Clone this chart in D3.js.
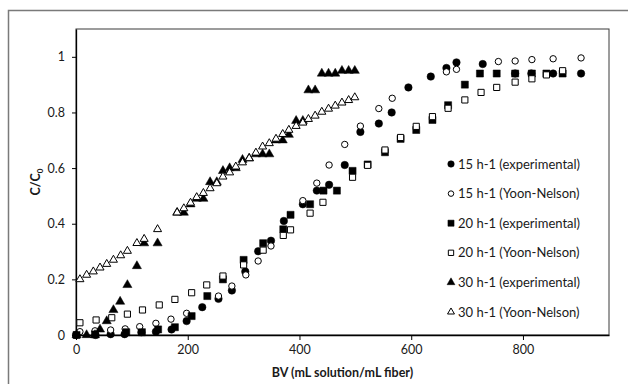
<!DOCTYPE html>
<html>
<head>
<meta charset="utf-8">
<script src="https://cdn.jsdelivr.net/npm/d3@7"></script>
<style>
  body { margin: 0; background: #fff; }
  svg { display: block; font-family: Lato, "Open Sans", sans-serif; }
</style>
</head>
<body>
<div id="chart"></div>
<script>
// 15 h-1
const bv15Exp = [0, 35, 62, 87, 117, 143, 171, 198, 226, 255, 279, 303, 326, 349, 372, 406, 431, 453, 481, 509, 542, 565, 595, 635, 663, 681, 728, 786, 815, 854, 904];
const c15Exp = [0, 0, 0.003, 0.003, 0.01, 0.012, 0.02, 0.05, 0.1, 0.13, 0.16, 0.228, 0.301, 0.339, 0.41, 0.47, 0.519, 0.54, 0.611, 0.73, 0.76, 0.8, 0.89, 0.929, 0.96, 0.98, 0.974, 0.94, 0.94, 0.94, 0.94];
const bv15YN = [7, 34, 62, 88, 114, 143, 170, 198, 255, 279, 304, 326, 349, 406, 431, 453, 481, 509, 542, 566, 663, 681, 756, 786, 816, 854, 904];
const c15YN = [0.012, 0.015, 0.018, 0.022, 0.03, 0.042, 0.057, 0.078, 0.14, 0.176, 0.216, 0.266, 0.32, 0.483, 0.546, 0.611, 0.685, 0.751, 0.814, 0.851, 0.946, 0.955, 0.983, 0.985, 0.99, 0.993, 0.996];

// 20 h-1
const bv20Exp = [1, 34, 90, 118, 147, 177, 207, 235, 263, 300, 335, 371, 384, 419, 443, 467, 495, 522, 553, 581, 609, 638, 666, 696, 723, 753, 786, 816, 842, 871];
const c20Exp = [0, 0.002, 0.01, 0.01, 0.02, 0.028, 0.068, 0.14, 0.2, 0.27, 0.33, 0.38, 0.432, 0.47, 0.519, 0.519, 0.59, 0.613, 0.657, 0.705, 0.737, 0.773, 0.826, 0.9, 0.94, 0.94, 0.94, 0.94, 0.94, 0.94];
const bv20YN = [7, 36, 64, 92, 119, 149, 177, 207, 234, 263, 300, 335, 371, 384, 419, 442, 495, 522, 553, 581, 609, 638, 666, 696, 725, 753, 786, 816, 842, 871];
const c20YN = [0.044, 0.054, 0.062, 0.075, 0.09, 0.108, 0.128, 0.152, 0.18, 0.212, 0.252, 0.305, 0.358, 0.378, 0.438, 0.477, 0.567, 0.61, 0.665, 0.71, 0.75, 0.785, 0.815, 0.845, 0.872, 0.89, 0.909, 0.921, 0.935, 0.95];

// 30 h-1
const bv30Exp = [1, 19, 34, 43, 55, 67, 79, 92, 109, 122, 146, 181, 193, 205, 216, 228, 240, 252, 263, 275, 286, 298, 310, 322, 334, 346, 358, 370, 381, 394, 406, 416, 428, 440, 452, 464, 476, 488, 499];
const c30Exp = [0, 0, 0, 0.02, 0.05, 0.09, 0.12, 0.18, 0.248, 0.33, 0.33, 0.44, 0.44, 0.47, 0.49, 0.49, 0.55, 0.55, 0.59, 0.6, 0.6, 0.63, 0.635, 0.65, 0.65, 0.65, 0.7, 0.7, 0.72, 0.77, 0.77, 0.88, 0.88, 0.94, 0.94, 0.94, 0.95, 0.95, 0.95];
const bv30YN = [7, 19, 31, 43, 55, 67, 80, 92, 109, 122, 146, 181, 193, 205, 216, 228, 240, 252, 263, 275, 286, 298, 310, 322, 334, 346, 358, 370, 381, 394, 406, 416, 428, 440, 452, 464, 476, 488, 499];
const c30YN = [0.2, 0.216, 0.228, 0.242, 0.255, 0.27, 0.286, 0.302, 0.33, 0.345, 0.38, 0.44, 0.455, 0.475, 0.495, 0.51, 0.527, 0.545, 0.569, 0.584, 0.605, 0.62, 0.635, 0.655, 0.677, 0.689, 0.705, 0.722, 0.737, 0.751, 0.763, 0.776, 0.788, 0.802, 0.813, 0.824, 0.835, 0.844, 0.854];

const seriesNames = ['15 h-1 (experimental)', '15 h-1 (Yoon-Nelson)', '20 h-1 (experimental)', '20 h-1 (Yoon-Nelson)', '30 h-1 (experimental)', '30 h-1 (Yoon-Nelson)'];
const xTicks = [0, 200, 400, 600, 800];
const yTicks = [0, 0.2, 0.4, 0.6, 0.8, 1];

const series = [
    { name: seriesNames[0], xs: bv15Exp, ys: c15Exp, shape: d3.symbolCircle, size: 44, open: false },
    { name: seriesNames[1], xs: bv15YN, ys: c15YN, shape: d3.symbolCircle, size: 32, open: true },
    { name: seriesNames[2], xs: bv20Exp, ys: c20Exp, shape: d3.symbolSquare, size: 50, open: false },
    { name: seriesNames[3], xs: bv20YN, ys: c20YN, shape: d3.symbolSquare, size: 38, open: true },
    { name: seriesNames[4], xs: bv30Exp, ys: c30Exp, shape: d3.symbolTriangle, size: 36, open: false },
    { name: seriesNames[5], xs: bv30YN, ys: c30YN, shape: d3.symbolTriangle, size: 28, open: true }
];

const width = 628, height = 384;
const margin = { left: 76, top: 29, right: 19, bottom: 49 };

const svg = d3.select('#chart').append('svg')
    .attr('width', width)
    .attr('height', height);

// outer chart frame (runs off the right and bottom edges)
svg.append('rect')
    .attr('x', 8.5).attr('y', 10.5)
    .attr('width', 660).attr('height', 420)
    .attr('fill', 'none')
    .attr('stroke', '#7a7a7a')
    .attr('stroke-width', 1.5);

const x = d3.scaleLinear().domain([0, 954]).range([margin.left, width - margin.right]);
const y = d3.scaleLinear().domain([0, 1.1]).range([height - margin.bottom, margin.top]);

// plot area box
svg.append('rect')
    .attr('x', margin.left).attr('y', margin.top)
    .attr('width', width - margin.left - margin.right)
    .attr('height', height - margin.top - margin.bottom)
    .attr('fill', 'none')
    .attr('stroke', '#3a3a3a')
    .attr('stroke-width', 1);

const xAxis = svg.append('g')
    .attr('transform', `translate(0,${height - margin.bottom})`)
    .call(d3.axisBottom(x).tickValues(xTicks).tickSize(5).tickSizeOuter(0).tickPadding(5));

const yAxis = svg.append('g')
    .attr('transform', `translate(${margin.left},0)`)
    .call(d3.axisLeft(y).tickValues(yTicks).tickSize(4).tickSizeOuter(0).tickPadding(7)
        .tickFormat(d => d3.format('~g')(d)));

[xAxis, yAxis].forEach(ax => {
    ax.select('.domain').attr('stroke', '#000').attr('stroke-width', 1.3);
    ax.selectAll('.tick line').attr('stroke', '#000');
    ax.selectAll('.tick text')
        .attr('fill', '#1a1a1a')
        .style('font-size', '12.5px')
        .style('font-family', 'Lato, sans-serif');
});

// axis titles
svg.append('text')
    .attr('x', (margin.left + width - margin.right) / 2)
    .attr('y', 377)
    .attr('text-anchor', 'middle')
    .style('font-size', '12.5px')
    .style('font-weight', 'bold')
    .attr('fill', '#1a1a1a')
    .text('BV (mL solution/mL fiber)');

const yTitle = svg.append('text')
    .attr('transform', `translate(40,${(margin.top + height - margin.bottom) / 2}) rotate(-90)`)
    .attr('text-anchor', 'middle')
    .style('font-size', '12.5px')
    .style('font-weight', 'bold')
    .attr('fill', '#1a1a1a');
yTitle.append('tspan').text('C/C');
yTitle.append('tspan').attr('dy', 3).style('font-size', '8px').text('0');

// markers
series.forEach(s => {
    const sym = d3.symbol().type(s.shape).size(s.size);
    svg.append('g')
        .selectAll('path')
        .data(s.xs.map((v, i) => [v, s.ys[i]]))
        .join('path')
        .attr('transform', d => `translate(${x(d[0])},${y(d[1])})`)
        .attr('d', sym)
        .attr('fill', s.open ? '#fff' : '#000')
        .attr('stroke', '#000')
        .attr('stroke-width', s.open ? 1 : 0.5);
});

// legend
const legend = svg.append('g').attr('transform', 'translate(451,164)');
series.forEach((s, i) => {
    const row = legend.append('g').attr('transform', `translate(0,${i * 29.6})`);
    row.append('path')
        .attr('d', d3.symbol().type(s.shape).size(s.size * 0.75))
        .attr('fill', s.open ? '#fff' : '#000')
        .attr('stroke', '#000')
        .attr('stroke-width', s.open ? 1 : 0.5);
    row.append('text')
        .attr('x', 7)
        .attr('dy', '0.35em')
        .style('font-size', '13px')
        .attr('fill', '#1a1a1a')
        .text(s.name);
});
</script>
</body>
</html>
